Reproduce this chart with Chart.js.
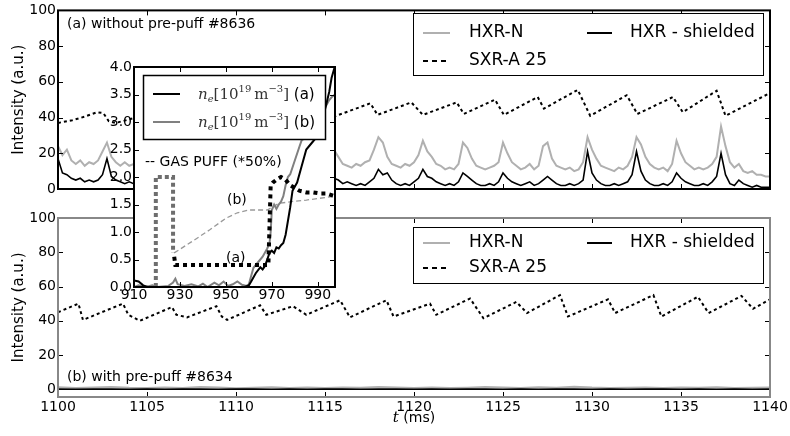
<!DOCTYPE html>
<html lang="en">
<head>
<meta charset="UTF-8">
<title>HXR / SXR intensity with and without pre-puff</title>
<script src="https://cdn.jsdelivr.net/npm/chart.js"></script>
<style>
  body { margin: 0; background: #fff; }
  #wrap { position: relative; width: 790px; height: 436px; }
  #wrap canvas { position: absolute; left: 0; top: 0; }
</style>
</head>
<body>
<div id="wrap">
  <canvas id="topChart" width="790" height="436"></canvas>
  <canvas id="botChart" width="790" height="436"></canvas>
  <canvas id="insetChart" width="790" height="436"></canvas>
</div>
<script>
// ---- main panels: time axis (ms) and intensity ticks
const xTicks = [1100, 1105, 1110, 1115, 1120, 1125, 1130, 1135, 1140];
const yTicks = [0, 20, 40, 60, 80, 100];

// HXR signals of shot #8636, sampled every 0.25 ms from 1100 ms
const hxrT0 = 1100, hxrDt = 0.25;
const hxrN_a = [
  24, 19, 22, 16,  14, 16, 13, 15,  14, 16, 21, 26,  18, 15, 13, 15,  13, 14, 13, 16,
  24, 21, 16, 14,  13, 15, 13, 14,  13, 15, 25, 23,  17, 14, 13, 12,  14, 13, 15, 14,
  17, 26, 20, 15,  13, 12, 14, 12,  13, 14, 16, 27,  21, 16, 13, 12,  14, 12, 13, 15,
  17, 24, 22, 18,  14, 13, 12, 14,  13, 15, 16, 22,  29, 26, 18, 14,  13, 12, 14, 13,
  15, 19, 27, 21,  18, 14, 13, 11,  12, 11, 14, 26,  23, 17, 13, 12,  11, 12, 13, 15,
  26, 20, 15, 13,  11, 12, 14, 11,  13, 24, 26, 17,  13, 12, 11, 12,  10, 11, 15, 29,
  22, 17, 13, 12,  11, 10, 12, 11,  13, 18, 29, 25,  18, 14, 12, 11,  12, 10, 14, 27,
  20, 15, 13, 11,  12, 11, 12, 14,  18, 35, 24, 15,  12, 14, 10, 9,   10, 8, 8, 7,
  7
];
const hxrShield_a = [
  17, 9, 8, 6,  5, 6, 4, 5,  4, 5, 8, 17,  7, 5, 4, 3,  4, 3, 4, 5,
  12, 7, 5, 4,  3, 4, 3, 4,  5, 4, 10, 8,  5, 3, 4, 2,  3, 4, 5, 3,
  5, 12, 7, 4,  3, 2, 3, 2,  3, 4, 5, 13,  7, 4, 3, 2,  3, 2, 3, 4,
  5, 7, 6, 5,   3, 4, 3, 2,  3, 2, 4, 6,   11, 8, 9, 5,  3, 2, 3, 2,
  4, 6, 11, 7,  6, 4, 3, 2,  3, 2, 4, 9,   7, 5, 3, 2,  2, 3, 2, 4,
  9, 6, 4, 3,   2, 3, 4, 2,  3, 5, 7, 5,   3, 2, 2, 3,  2, 3, 5, 21,
  9, 5, 3, 2,   2, 3, 2, 3,  4, 8, 21, 10, 5, 3, 2, 2,  3, 2, 4, 9,
  6, 4, 3, 2,   2, 3, 2, 4,  7, 20, 8, 3,  2, 5, 3, 2,  1, 2, 1, 1,
  1
];
// SXR-A 25 of shot #8636, sawtooth vertices [t, value]
const sxr_a = [
  [1100, 37], [1100.8, 38.5], [1101.5, 40.5], [1102.2, 43], [1102.55, 42.5], [1102.85, 38],
  [1103.25, 37], [1104.2, 39.5], [1105.0, 41], [1105.3, 37.5], [1107.5, 44], [1107.8, 38.5],
  [1110.1, 45], [1110.4, 39], [1112.7, 46], [1113.0, 39.5], [1115.1, 46.5], [1115.5, 40.5],
  [1117.55, 48], [1117.95, 41.5], [1119.85, 48.5], [1120.5, 41.5], [1122.4, 48.5], [1122.8, 42],
  [1124.55, 50], [1125.05, 41.5], [1126.95, 51.5], [1127.3, 45], [1129.2, 55.5], [1129.9, 41],
  [1131.95, 52.5], [1132.55, 42], [1134.55, 51.5], [1135.1, 43], [1137.0, 55], [1137.5, 41],
  [1139.95, 53.5], [1140, 53.5]
];

// shot #8634: HXR stays near zero (1 ms samples)
const hxrB_Dt = 1;
const hxrN_b = [
  1.2, 0.8, 1.0, 1.4, 0.9, 0.7, 1.1, 0.8, 1.3, 1.0, 0.6, 0.9, 1.2, 0.8, 1.0, 0.7, 1.1, 0.9, 1.4, 1.0,
  0.8, 1.1, 0.7, 0.9, 1.3, 1.0, 0.8, 1.2, 0.9, 1.5, 1.0, 0.8, 0.9, 1.1, 0.7, 1.0, 0.9, 1.2, 0.8, 0.9,
  1.0
];
const hxrShield_b = [
  0.1, 0, 0.1, 0.2, 0, 0.1, 0, 0.1, 0.1, 0, 0.2, 0.1, 0, 0.1, 0, 0.1, 0.1, 0, 0.1, 0.2,
  0, 0.1, 0, 0.1, 0.1, 0, 0.1, 0, 0.2, 0.1, 0, 0.1, 0, 0.1, 0.1, 0, 0.1, 0, 0.1, 0,
  0.1
];
const sxr_b = [
  [1100, 45], [1101.15, 50], [1101.4, 40.5], [1103.65, 50], [1103.95, 43.5], [1104.6, 40],
  [1106.4, 48], [1106.65, 43.5], [1107.25, 42], [1108.9, 48.5], [1109.2, 42.5], [1109.5, 40.5],
  [1111.35, 49], [1111.7, 43.5], [1113.2, 48.5], [1113.95, 43.5], [1115.85, 52], [1116.4, 42],
  [1118.45, 52], [1118.85, 42.5], [1120.9, 50], [1121.25, 43.5], [1123.15, 53], [1123.9, 41.5],
  [1125.75, 51], [1126.35, 44.5], [1128.2, 55], [1128.65, 42.5], [1130.9, 52.5], [1131.3, 44.5],
  [1133.45, 55], [1133.9, 42.5], [1135.95, 54], [1136.55, 44.5], [1138.4, 54.5], [1139.05, 47],
  [1139.9, 52], [1140, 52.5]
];

// ---- inset: density and gas puff, 910..998 ms
const inXTicks = [910, 930, 950, 970, 990];
const inYTicks = [0, 0.5, 1.0, 1.5, 2.0, 2.5, 3.0, 3.5, 4.0];
const neA = [
  [910, 0.12], [912, 0.1], [914, 0.03], [916, 0], [958, 0], [960, 0.03], [961, 0.1], [963, 0.25],
  [965, 0.36], [966, 0.32], [967, 0.38], [968, 0.5], [969, 0.62], [970, 0.66], [971, 0.62],
  [972, 0.72], [973, 0.7], [974, 0.76], [975, 0.8], [976, 0.95], [977, 1.2], [978, 1.45],
  [979, 1.75], [981, 1.9], [983, 2.2], [985, 2.5], [987, 2.6], [988, 2.65], [990, 2.75],
  [991, 2.85], [993, 3.2], [995, 3.55], [996, 3.8], [997.5, 4.02]
];
const neB = [
  [910, 0], [912, 0.03], [915, 0], [918, 0.03], [920, 0], [925, 0.02], [927, 0.08], [928, 0.15],
  [929, 0.05], [932, 0.02], [935, 0.05], [938, 0.01], [940, 0.06], [942, 0], [945, 0.08],
  [947, 0.03], [949, 0.1], [951, 0.02], [953, 0.05], [955, 0.1], [957, 0.04], [959, 0.02],
  [960, 0.05], [961, 0.2], [962, 0.35], [964, 0.45], [966, 0.55], [968, 0.7], [969, 0.8],
  [969.5, 1.0], [970, 1.4], [971, 1.5], [972, 1.42], [973, 1.5], [974, 1.55], [975, 1.65],
  [976, 1.85], [977, 2.0], [978, 2.05], [980, 2.3], [982, 2.55], [983, 2.67], [985, 2.72],
  [987, 2.85], [989, 2.95], [991, 3.1], [993, 3.25], [995, 3.4], [996, 3.45], [997.5, 3.5]
];
const puffA = [
  [927.5, 0.55], [928, 0.4], [968.5, 0.4], [969.5, 1.85], [970.5, 1.9], [972, 1.95], [974, 2.0],
  [976, 1.95], [978, 1.85], [980, 1.8], [982, 1.75], [985, 1.72], [988, 1.72], [991, 1.7],
  [994, 1.7], [997.5, 1.65]
];
const puffB = [[919.5, 0], [919.5, 2.0], [927, 2.0], [927, 0.62]];
const puffBtail = [
  [927.5, 0.62], [935, 0.82], [943, 1.04], [950, 1.25], [955, 1.35], [960, 1.4], [968, 1.4],
  [973, 1.52], [980, 1.56], [985, 1.58], [997.5, 1.65]
];

// ---- styling
const GRAY_N = '#b0b0b0';
const GRAY_NE = '#808080';
const TICK_LEN = 5;
const SANS = '"DejaVu Sans", sans-serif';
const SERIF = '"DejaVu Serif", serif';

Chart.defaults.font.family = SANS;
Chart.defaults.font.size = 14;
Chart.defaults.color = '#000';
Chart.defaults.animation = false;
Chart.defaults.events = [];
Chart.defaults.plugins.legend.display = false;
Chart.defaults.plugins.tooltip.enabled = false;
Chart.defaults.elements.point.radius = 0;
Chart.defaults.elements.line.tension = 0;

const seq = (vals, t0, dt) => vals.map((v, i) => ({ x: t0 + i * dt, y: v }));
const pts = pairs => pairs.map(([x, y]) => ({ x, y }));

// frame + inward ticks on all four sides
function framePlugin(color, width) {
  return {
    id: 'frame',
    afterDatasetsDraw(chart) {
      const { ctx, chartArea: a, scales: { x, y } } = chart;
      ctx.save();
      ctx.strokeStyle = '#000';
      ctx.lineWidth = 1;
      ctx.beginPath();
      x.ticks.forEach(t => {
        const px = Math.round(x.getPixelForValue(t.value)) + 0.5;
        ctx.moveTo(px, a.top); ctx.lineTo(px, a.top + TICK_LEN);
        ctx.moveTo(px, a.bottom); ctx.lineTo(px, a.bottom - TICK_LEN);
      });
      y.ticks.forEach(t => {
        const py = Math.round(y.getPixelForValue(t.value)) + 0.5;
        ctx.moveTo(a.left, py); ctx.lineTo(a.left + TICK_LEN, py);
        ctx.moveTo(a.right, py); ctx.lineTo(a.right - TICK_LEN, py);
      });
      ctx.stroke();
      ctx.strokeStyle = color;
      ctx.lineWidth = width;
      ctx.strokeRect(a.left, a.top, a.right - a.left, a.bottom - a.top);
      ctx.restore();
    }
  };
}

function drawLegendBox(ctx, l, t, r, b, lw) {
  ctx.fillStyle = '#fff';
  ctx.fillRect(l, t, r - l, b - t);
  ctx.strokeStyle = '#000';
  ctx.lineWidth = lw;
  ctx.strokeRect(l + 0.5, t + 0.5, r - l, b - t);
}

function sample(ctx, x1, x2, y, color, width, dash) {
  ctx.beginPath();
  ctx.strokeStyle = color;
  ctx.lineWidth = width;
  ctx.setLineDash(dash || []);
  ctx.moveTo(x1, y); ctx.lineTo(x2, y);
  ctx.stroke();
  ctx.setLineDash([]);
}

function drawMainLegend(ctx, top, bottom, row1, row2) {
  drawLegendBox(ctx, 413, top, 763, bottom, 1);
  sample(ctx, 423, 450, row1, GRAY_N, 2);
  sample(ctx, 587, 612, row1, '#000', 2);
  sample(ctx, 423, 450, row2, '#000', 2, [5, 4]);
  ctx.fillStyle = '#000';
  ctx.font = '17px ' + SANS;
  ctx.textBaseline = 'middle';
  ctx.fillText('HXR-N', 469, row1);
  ctx.fillText('HXR - shielded', 630, row1);
  ctx.fillText('SXR-A 25', 469, row2);
}

// n_e[10^19 m^-3] (tag), drawn piece by piece
function drawNe(ctx, x, y, tag) {
  const base = y + 5;
  ctx.textBaseline = 'alphabetic';
  ctx.fillStyle = '#333';
  const put = (s, font, dy) => {
    ctx.font = font;
    ctx.fillText(s, x, base + dy);
    x += ctx.measureText(s).width;
  };
  put('n', 'italic 15px ' + SERIF, 0);
  put('e', 'italic 10px ' + SERIF, 3);
  put('[10', '15px ' + SERIF, 0);
  put('19', '10px ' + SERIF, -7);
  x += 3;
  put('m', '15px ' + SERIF, 0);
  put('\u22123', '10px ' + SERIF, -7);
  put(']', '15px ' + SERIF, 0);
  ctx.fillStyle = '#000';
  put(' (' + tag + ')', '15px ' + SANS, 0);
}

function panelScales(yMin, xHeight, xLabels) {
  return {
    x: {
      type: 'linear', min: 1100, max: 1140,
      afterBuildTicks: s => { s.ticks = xTicks.map(v => ({ value: v })); },
      afterFit: s => { s.height = xHeight; },
      grid: { display: false, drawTicks: false },
      border: { display: false },
      ticks: { display: xLabels, padding: 2, maxRotation: 0, autoSkip: false, callback: v => String(v) }
    },
    y: {
      type: 'linear', min: yMin, max: 100,
      afterBuildTicks: s => { s.ticks = yTicks.map(v => ({ value: v })); },
      afterFit: s => { s.width = 58; },
      grid: { display: false, drawTicks: false },
      border: { display: false },
      ticks: { padding: 2, callback: v => String(v) },
      title: { display: true, text: 'Intensity (a.u.)', font: { size: 15 }, padding: { top: 10, bottom: 0 } }
    }
  };
}

function panelDatasets(nVals, shieldVals, dt, sxr) {
  return [
    { label: 'HXR - shielded', data: seq(shieldVals, hxrT0, dt), borderColor: '#000', borderWidth: 1.6, order: 0 },
    { label: 'SXR-A 25', data: pts(sxr), borderColor: '#000', borderWidth: 2, borderDash: [3, 3], order: 1 },
    { label: 'HXR-N', data: seq(nVals, hxrT0, dt), borderColor: GRAY_N, borderWidth: 2, order: 2 }
  ];
}

// top panel (a)
new Chart(document.getElementById('topChart'), {
  type: 'line',
  data: { datasets: panelDatasets(hxrN_a, hxrShield_a, hxrDt, sxr_a) },
  options: {
    responsive: false,
    layout: { padding: { left: 0, top: 10, right: 20, bottom: 247 } },
    scales: panelScales(0, 0, false)
  },
  plugins: [framePlugin('#000', 2), {
    id: 'topDecor',
    afterDraw(chart) {
      const ctx = chart.ctx;
      ctx.save();
      ctx.fillStyle = '#000';
      ctx.font = '14px ' + SANS;
      ctx.textBaseline = 'middle';
      ctx.fillText('(a) without pre-puff #8636', 67, 24);
      drawMainLegend(ctx, 13, 75, 33, 61);
      ctx.restore();
    }
  }]
});

// bottom panel (b)
new Chart(document.getElementById('botChart'), {
  type: 'line',
  data: { datasets: panelDatasets(hxrN_b, hxrShield_b, hxrB_Dt, sxr_b) },
  options: {
    responsive: false,
    layout: { padding: { left: 0, top: 218, right: 20, bottom: 0 } },
    scales: panelScales(-4.5, 39, true)
  },
  plugins: [framePlugin('#888', 2), {
    id: 'botDecor',
    afterDraw(chart) {
      const ctx = chart.ctx;
      const a = chart.chartArea;
      ctx.save();
      ctx.fillStyle = '#000';
      ctx.font = '14px ' + SANS;
      ctx.textBaseline = 'middle';
      ctx.fillText('(b) with pre-puff #8634', 67, 377);
      drawMainLegend(ctx, 227, 283, 243, 268);
      // x-axis title: italic t (ms)
      ctx.font = 'italic 15px ' + SERIF;
      const w1 = ctx.measureText('t').width;
      ctx.font = '14px ' + SANS;
      const w2 = ctx.measureText(' (ms)').width;
      let x = (a.left + a.right) / 2 - (w1 + w2) / 2;
      ctx.font = 'italic 15px ' + SERIF;
      ctx.fillText('t', x, 418);
      ctx.font = '14px ' + SANS;
      ctx.fillText(' (ms)', x + w1, 418);
      ctx.restore();
    }
  }]
});

// inset: density and gas puff
new Chart(document.getElementById('insetChart'), {
  type: 'line',
  data: {
    datasets: [
      { label: 'GAS PUFF (a)', data: pts(puffA), borderColor: '#000', borderWidth: 4, borderDash: [4, 4], order: 0 },
      { label: 'ne (a)', data: pts(neA), borderColor: '#000', borderWidth: 2, order: 1 },
      { label: 'ne (b)', data: pts(neB), borderColor: GRAY_NE, borderWidth: 2, order: 2 },
      { label: 'GAS PUFF (b)', data: pts(puffB), borderColor: '#6e6e6e', borderWidth: 4, borderDash: [4, 3], order: 3 },
      { label: 'GAS PUFF (b) tail', data: pts(puffBtail), borderColor: '#999', borderWidth: 1.3, borderDash: [5, 3], order: 4 }
    ]
  },
  options: {
    responsive: false,
    layout: { padding: { left: 0, top: 67, right: 455, bottom: 119 } },
    scales: {
      x: {
        type: 'linear', min: 910, max: 997.5,
        afterBuildTicks: s => { s.ticks = inXTicks.map(v => ({ value: v })); },
        afterFit: s => { s.height = 30; },
        grid: { display: false, drawTicks: false },
        border: { display: false },
        ticks: { padding: 0, maxRotation: 0, autoSkip: false, callback: v => String(v) }
      },
      y: {
        type: 'linear', min: 0, max: 4,
        afterBuildTicks: s => { s.ticks = inYTicks.map(v => ({ value: v })); },
        afterFit: s => { s.width = 134; },
        grid: { display: false, drawTicks: false },
        border: { display: false },
        ticks: { padding: 2, callback: v => v.toFixed(1) }
      }
    }
  },
  plugins: [{
    id: 'insetBg',
    beforeDraw(chart) {
      const a = chart.chartArea;
      chart.ctx.save();
      chart.ctx.fillStyle = '#fff';
      chart.ctx.fillRect(a.left, a.top, a.right - a.left, a.bottom - a.top);
      chart.ctx.restore();
    }
  }, framePlugin('#000', 2), {
    id: 'insetDecor',
    afterDraw(chart) {
      const ctx = chart.ctx;
      ctx.save();
      drawLegendBox(ctx, 143, 75, 325, 139, 1.5);
      sample(ctx, 153, 180, 94, '#000', 2);
      sample(ctx, 153, 180, 122, GRAY_NE, 2);
      drawNe(ctx, 198, 94, 'a');
      drawNe(ctx, 198, 122, 'b');
      ctx.fillStyle = '#000';
      ctx.font = '14px ' + SANS;
      ctx.textBaseline = 'middle';
      ctx.fillText('-- GAS PUFF (*50%)', 145, 162);
      ctx.fillText('(b)', 227, 200);
      ctx.fillText('(a)', 226, 258);
      ctx.restore();
    }
  }]
});
</script>
</body>
</html>
